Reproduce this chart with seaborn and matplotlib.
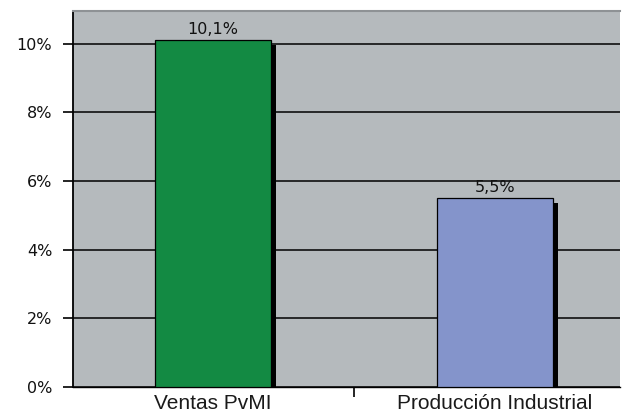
import matplotlib
matplotlib.use("Agg")
import matplotlib.pyplot as plt
import matplotlib.patheffects as pe
from matplotlib.ticker import FixedLocator
import seaborn as sns
import pandas as pd

categories = ["Ventas PvMI", "Producción Industrial"]
values = [10.1, 5.5]
bar_colors = ["#138a43", "#8494cb"]
y_ticks = [0, 2, 4, 6, 8, 10]
y_tick_labels = ["0%", "2%", "4%", "6%", "8%", "10%"]

df = pd.DataFrame({"categoria": categories, "valor": values})

sns.set_theme(style="white")
plt.rcParams["font.family"] = ["DejaVu Sans"]

fig = plt.figure(figsize=(6.25, 4.15), dpi=100)
ax = fig.add_axes([73 / 625, 28 / 415, 547 / 625, 376 / 415])
ax.set_facecolor("#b5babd")

sns.barplot(data=df, x="categoria", y="valor", hue="categoria",
            palette=bar_colors, saturation=1, width=0.41, edgecolor="black",
            linewidth=0.9, legend=False, ax=ax, zorder=3)

for patch in ax.patches:
    patch.set_path_effects([
        pe.SimplePatchShadow(offset=(4, -3.5), shadow_rgbFace="black", alpha=1.0),
        pe.Normal(),
    ])

for cont in ax.containers:
    labels = [f"{v:.1f}".replace(".", ",") + "%" for v in cont.datavalues]
    ax.bar_label(cont, labels=labels, padding=2, fontsize=11.5, color="#111111")

ax.set_ylim(0, 10.95)
ax.set_xlim(-0.495, 1.443)
ax.set_yticks(y_ticks)
ax.set_yticklabels(y_tick_labels, fontsize=11.5, color="#111111")
ax.yaxis.grid(True, color="black", linewidth=1.1)
ax.set_axisbelow(True)

ax.xaxis.set_minor_locator(FixedLocator([0.5]))
ax.tick_params(axis="x", which="major", length=0, pad=5)
ax.tick_params(axis="x", which="minor", length=7, width=1.2, color="black", bottom=True)
ax.tick_params(axis="y", length=7, width=1.2, color="black", left=True, pad=8)
for lbl in ax.get_xticklabels():
    lbl.set_fontfamily(["Liberation Sans", "DejaVu Sans"])
    lbl.set_fontsize(15)
    lbl.set_color("#1a1a1a")

ax.set_xlabel("")
ax.set_ylabel("")

ax.spines["left"].set_color("black")
ax.spines["left"].set_linewidth(1.3)
ax.spines["bottom"].set_color("black")
ax.spines["bottom"].set_linewidth(1.0)
ax.spines["top"].set_color("#8e9295")
ax.spines["top"].set_linewidth(1.5)
ax.spines["right"].set_visible(False)

fig.savefig("out.png", dpi=100)
